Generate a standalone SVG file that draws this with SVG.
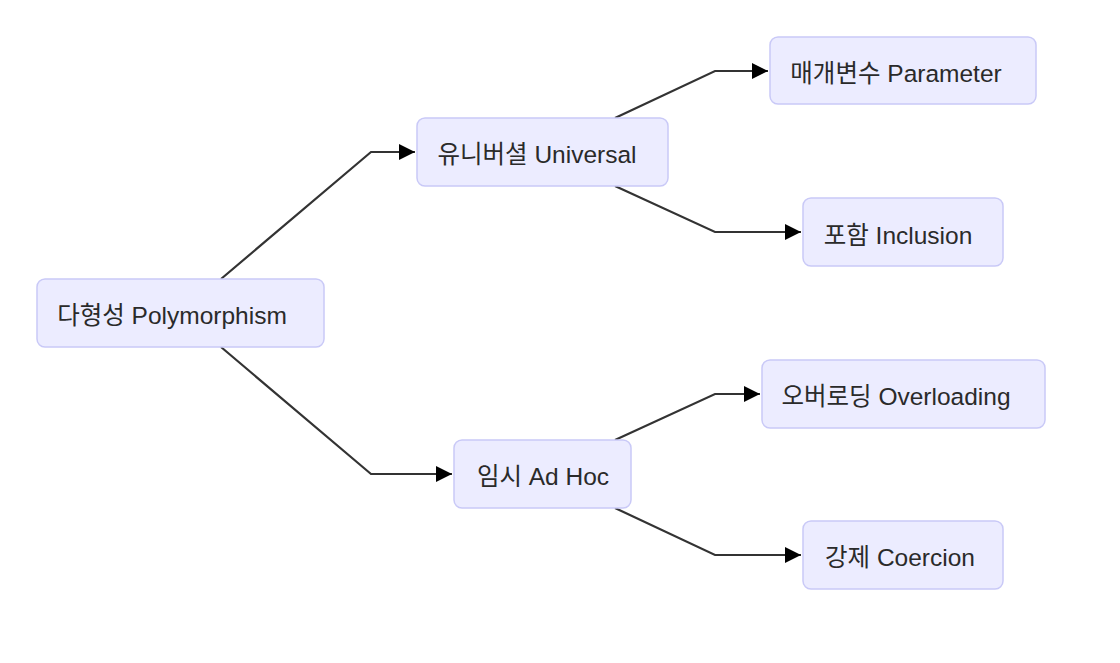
<svg xmlns="http://www.w3.org/2000/svg" width="1120" height="663" viewBox="0 0 1120 663">
<style>
.node rect{fill:#ECECFF;stroke:#C9C9F7;stroke-width:1.5}
.node text{font-family:"Liberation Sans","Noto Sans CJK KR",Arial,sans-serif;font-size:24.5px;fill:#2a2a2a;text-anchor:middle;dominant-baseline:central}
.edge{fill:none;stroke:#333;stroke-width:2.2}
</style>
<defs>
<marker id="arr" viewBox="0 0 10 10" refX="10" refY="5" markerWidth="7.5" markerHeight="7.5" markerUnits="strokeWidth" orient="auto">
<path d="M0,0L10,5L0,10z" fill="#000"/>
</marker>
</defs>
<rect width="1120" height="663" fill="#fff"/>
<g id="connectors">
<path class="edge" d="M221,279L371,152H415" marker-end="url(#arr)"/>
<path class="edge" d="M221,347L371,474H452" marker-end="url(#arr)"/>
<path class="edge" d="M615,118L715,71H768" marker-end="url(#arr)"/>
<path class="edge" d="M615,186L715,232H801" marker-end="url(#arr)"/>
<path class="edge" d="M615,440L715,394H760" marker-end="url(#arr)"/>
<path class="edge" d="M615,508L715,555H801" marker-end="url(#arr)"/>
</g>
<g id="polymorphism" class="node"><rect x="37" y="279" width="287" height="68" rx="8"/><text x="172" y="315">다형성 Polymorphism</text></g>
<g id="universal" class="node"><rect x="417" y="118" width="251" height="68" rx="8"/><text x="537" y="154">유니버셜 Universal</text></g>
<g id="adhoc" class="node"><rect x="454" y="440" width="177" height="68" rx="8"/><text x="543" y="476">임시 Ad Hoc</text></g>
<g id="parameter" class="node"><rect x="770" y="37" width="266" height="67" rx="8"/><text x="896" y="73">매개변수 Parameter</text></g>
<g id="inclusion" class="node"><rect x="803" y="198" width="200" height="68" rx="8"/><text x="898" y="235">포함 Inclusion</text></g>
<g id="overloading" class="node"><rect x="762" y="360" width="283" height="68" rx="8"/><text x="896" y="396">오버로딩 Overloading</text></g>
<g id="coercion" class="node"><rect x="803" y="521" width="200" height="68" rx="8"/><text x="900" y="557">강제 Coercion</text></g>
</svg>
